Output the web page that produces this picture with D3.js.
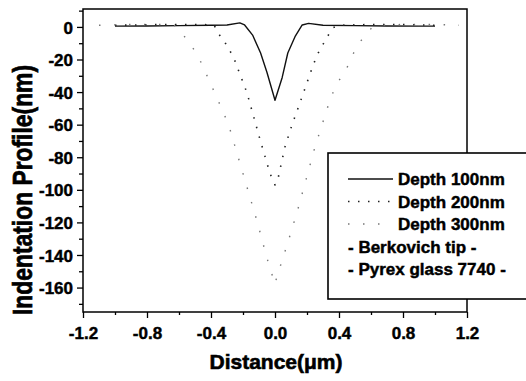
<!DOCTYPE html>
<html>
<head>
<meta charset="utf-8">
<script src="https://cdn.jsdelivr.net/npm/d3@7"></script>
<style>
  body { margin: 0; background: #fff; }
  svg { display: block; }
  text { font-family: "Liberation Sans", Arial, sans-serif; font-weight: bold; fill: #000; stroke: #000; stroke-width: 0.45px; }
</style>
</head>
<body>
<div id="chart"></div>
<script>
// values
const xTicks = [-1.2, -0.8, -0.4, 0.0, 0.4, 0.8, 1.2];
const xTickLabels = ["-1.2", "-0.8", "-0.4", "0.0", "0.4", "0.8", "1.2"];
const xMinor = [-1.0, -0.6, -0.2, 0.2, 0.6, 1.0];
const yTicks = [0, -20, -40, -60, -80, -100, -120, -140, -160];
const yTickLabels = ["0", "-20", "-40", "-60", "-80", "-100", "-120", "-140", "-160"];
const yMinor = [10, -10, -30, -50, -70, -90, -110, -130, -150, -170];

const depth100X = [-1.0, -0.8, -0.6, -0.4, -0.3, -0.22, -0.19, -0.14, -0.09, -0.05, 0, 0.045, 0.08, 0.125, 0.17, 0.21, 0.3, 0.5, 0.7, 0.9, 1.0];
const depth100Y = [0.5, 0.6, 0.8, 1, 1.2, 2.5, 1.2, -5, -16, -28, -45, -31, -16, -6, 1.2, 2.2, 1, 0.8, 0.6, 0.5, 0.5];

const depth200X = [-1.0, -0.7, -0.45, -0.38, -0.356, -0.31, -0.26, -0.175, -0.094, -0.031, 0, 0.02, 0.0625, 0.11, 0.14, 0.19, 0.24, 0.27, 0.31, 0.36, 0.4, 0.6, 0.8, 1.0];
const depth200Y = [1, 1.5, 1.5, 1, -3.7, -10, -18.4, -40.5, -69, -90, -97, -92.6, -73.6, -59, -51, -37, -23, -16, -9, -0.6, 1, 1.5, 1.5, 1];

const depth300X = [-1.1, -0.9, -0.7, -0.63, -0.61, -0.54, -0.48, -0.42, -0.356, -0.29, -0.17, -0.11, -0.05, 0, 0.01, 0.075, 0.14, 0.21, 0.25, 0.33, 0.375, 0.45, 0.51, 0.575, 0.62, 0.8, 1.0, 1.15];
const depth300Y = [1, 1.5, 1.5, 1, -0.6, -9, -18, -31, -45, -60, -100, -120, -142, -158, -154, -134, -113, -88, -73.6, -49, -37, -25, -12, -3.7, 1, 1.5, 1.5, 1];

const seriesNames = ["Depth 100nm", "Depth 200nm", "Depth 300nm"];
const notes = ["- Berkovich tip -", "- Pyrex glass 7740 -"];

const width = 526, height = 381;
const m = { left: 83, right: 467, top: 9, bottom: 312 };

const x = d3.scaleLinear().domain([-1.2, 1.2]).range([m.left, m.right]);
const y = d3.scaleLinear().domain([-175, 11]).range([m.bottom, m.top]);

const svg = d3.select("#chart").append("svg")
  .attr("width", width)
  .attr("height", height);

const series = [
  { name: seriesNames[0], xs: depth100X, ys: depth100Y, color: "#111", w: 1.4, dash: null },
  { name: seriesNames[1], xs: depth200X, ys: depth200Y, color: "#222", w: 1.6, dash: "1.5,8.5" },
  { name: seriesNames[2], xs: depth300X, ys: depth300Y, color: "#777", w: 1.4, dash: "1.5,13.5" }
];

const line = d3.line()
  .x(d => x(d[0]))
  .y(d => y(d[1]));

series.forEach(s => {
  svg.append("path")
    .datum(d3.zip(s.xs, s.ys))
    .attr("d", line)
    .attr("fill", "none")
    .attr("stroke", s.color)
    .attr("stroke-width", s.w)
    .attr("stroke-linejoin", "round")
    .attr("stroke-dasharray", s.dash);
});

// frame
svg.append("rect")
  .attr("x", m.left).attr("y", m.top)
  .attr("width", m.right - m.left).attr("height", m.bottom - m.top)
  .attr("fill", "none").attr("stroke", "#000").attr("stroke-width", 1.5);

// x axis
const xAxis = svg.append("g")
  .attr("transform", `translate(0,${m.bottom})`)
  .call(d3.axisBottom(x).tickValues(xTicks).tickSize(6)
    .tickFormat((d, i) => xTickLabels[i]));
xAxis.append("g").call(d3.axisBottom(x).tickValues(xMinor).tickSize(3).tickFormat(""));
xAxis.selectAll("text").attr("y", 15).attr("dy", "0.71em").style("font-size", "17px");

// y axis
const yAxis = svg.append("g")
  .attr("transform", `translate(${m.left},0)`)
  .call(d3.axisLeft(y).tickValues(yTicks).tickSize(6)
    .tickFormat((d, i) => yTickLabels[i]));
yAxis.append("g").call(d3.axisLeft(y).tickValues(yMinor).tickSize(4).tickFormat(""));
yAxis.selectAll("text").attr("x", -10).attr("dy", "0.36em").style("font-size", "17px");

svg.selectAll(".domain").remove();
svg.selectAll(".tick line").attr("stroke", "#000").attr("stroke-width", 1.3);

// axis titles
svg.append("text")
  .attr("x", 276).attr("y", 369)
  .attr("text-anchor", "middle")
  .style("font-size", "21px")
  .style("stroke-width", "0.6px")
  .text("Distance(μm)");

svg.append("text")
  .attr("transform", "translate(32,190) rotate(-90)")
  .attr("text-anchor", "middle")
  .attr("textLength", 250)
  .attr("lengthAdjust", "spacingAndGlyphs")
  .style("font-size", "27px")
  .style("stroke-width", "0.7px")
  .text("Indentation Profile(nm)");

// legend
const legend = svg.append("g");
legend.append("rect")
  .attr("x", 328).attr("y", 153)
  .attr("width", 220).attr("height", 146)
  .attr("fill", "#fff").attr("stroke", "#000").attr("stroke-width", 1.6);

const rowY = d3.scalePoint().domain(d3.range(5)).range([185, 275]);

series.forEach((s, i) => {
  const yy = rowY(i) - 6;
  legend.append("line")
    .attr("x1", 348).attr("x2", 393)
    .attr("y1", yy).attr("y2", yy)
    .attr("stroke", s.color)
    .attr("stroke-width", s.w)
    .attr("stroke-dasharray", s.dash);
  legend.append("text")
    .attr("x", 398).attr("y", rowY(i))
    .style("font-size", "17px")
    .text(s.name);
});

notes.forEach((t, i) => {
  legend.append("text")
    .attr("x", 348).attr("y", rowY(i + 3))
    .style("font-size", "17px")
    .text(t);
});
</script>
</body>
</html>
